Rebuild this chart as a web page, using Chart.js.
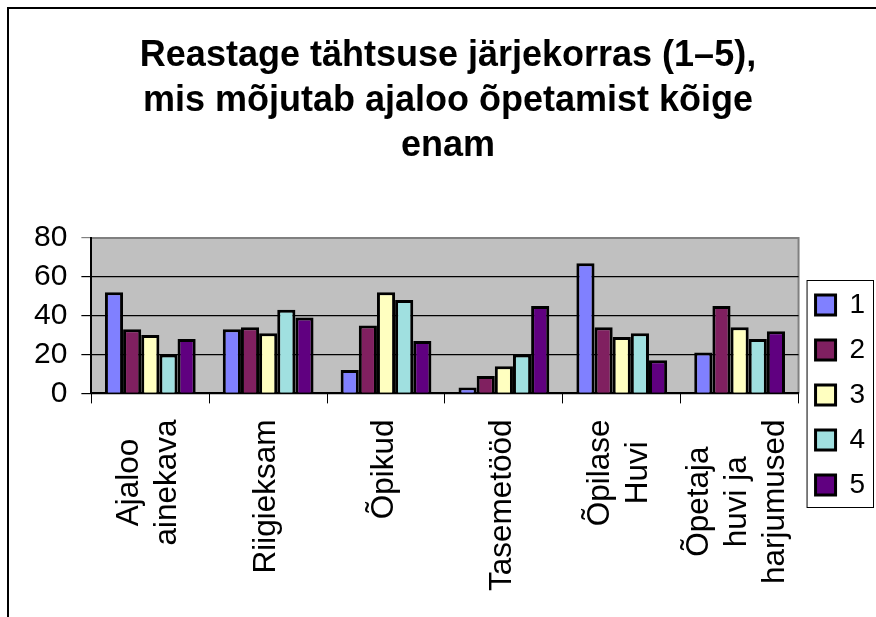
<!DOCTYPE html>
<html>
<head>
<meta charset="utf-8">
<script src="https://cdn.jsdelivr.net/npm/chart.js@4"></script>
<style>
  body { margin: 0; background: #fff; }
  #wrap { width: 876px; height: 617px; position: relative; }
</style>
</head>
<body>
<div id="wrap"><canvas id="chartCanvas"></canvas></div>
<script>
// categories and values
const categories = [
    ["Ajaloo", "ainekava"],
    ["Riigieksam"],
    ["Õpikud"],
    ["Tasemetööd"],
    ["Õpilase", "Huvi"],
    ["Õpetaja", "huvi ja", "harjumused"]
];
const seriesNames = ["1", "2", "3", "4", "5"];
const rank1 = [52, 33, 12, 3, 67, 21];
const rank2 = [33, 34, 35, 9, 34, 45];
const rank3 = [30, 31, 52, 14, 29, 34];
const rank4 = [20, 43, 48, 20, 31, 28];
const rank5 = [28, 39, 27, 45, 17, 32];
const yTicks = [0, 20, 40, 60, 80];

const colors = ["#8080FF", "#802060", "#FFFFC0", "#A0E0E0", "#600080"];
const font = "'Liberation Sans', Arial, sans-serif";
const labelSize = 31.5;
const labelLine = 38;

const allSeries = [rank1, rank2, rank3, rank4, rank5];

// gray plot area, outer frame, legend box, centred category labels
const decor = {
    id: "decor",
    afterLayout(chart) {
        // excel puts the legend lower than the plot centre
        const lg = chart.legend;
        lg.top = 250;
        lg.bottom = 540;
    },
    beforeDraw(chart) {
        const ctx = chart.ctx;
        const a = chart.chartArea;
        ctx.save();
        ctx.fillStyle = "#C0C0C0";
        ctx.fillRect(a.left, a.top, a.right - a.left, a.bottom - a.top);
        ctx.strokeStyle = "#808080";
        ctx.lineWidth = 2;
        ctx.beginPath();
        ctx.moveTo(a.left, a.top);
        ctx.lineTo(a.right, a.top);
        ctx.lineTo(a.right, a.bottom);
        ctx.stroke();
        ctx.restore();
    },
    afterDraw(chart) {
        const ctx = chart.ctx;
        ctx.save();
        ctx.strokeStyle = "#000";
        ctx.lineWidth = 2;
        ctx.beginPath();
        ctx.moveTo(8, chart.height);
        ctx.lineTo(8, 8);
        ctx.lineTo(chart.width, 8);
        ctx.stroke();

        const lg = chart.legend;
        ctx.lineWidth = 1;
        ctx.strokeRect(lg.left + 8.5, 280.5, chart.width - lg.left - 11, 227);

        // category labels, lines centred like the original
        const xs = chart.scales.x;
        const top = xs.top + 10 + 16;
        ctx.fillStyle = "#000";
        ctx.font = labelSize + "px " + font;
        ctx.textAlign = "center";
        ctx.textBaseline = "middle";
        categories.forEach((lines, i) => {
            const px = xs.getPixelForTick(i);
            const maxW = Math.max(...lines.map(t => ctx.measureText(t).width));
            const cy = top + maxW / 2;
            lines.forEach((t, j) => {
                const lx = px - 2 + (j - (lines.length - 1) / 2) * labelLine;
                ctx.save();
                ctx.translate(lx, cy);
                ctx.rotate(-Math.PI / 2);
                ctx.fillText(t, 0, 0);
                ctx.restore();
            });
        });
        ctx.restore();
    }
};

new Chart("chartCanvas", {
    type: "bar",
    data: {
        labels: categories,
        datasets: allSeries.map((vals, i) => ({
            label: seriesNames[i],
            data: vals,
            backgroundColor: colors[i],
            borderColor: "#000",
            borderWidth: 3,
            barPercentage: 1,
            categoryPercentage: 0.77
        }))
    },
    options: {
        responsive: true,
        maintainAspectRatio: false,
        animation: false,
        layout: { padding: { left: 20, right: 0, top: 0, bottom: 10 } },
        plugins: {
            title: {
                display: true,
                text: ["Reastage tähtsuse järjekorras (1–5),", "mis mõjutab ajaloo õpetamist kõige", "enam"],
                color: "#000",
                font: { family: font, size: 36, weight: "bold", lineHeight: 1.24 },
                padding: { top: 34, bottom: 70 }
            },
            legend: {
                position: "right",
                labels: {
                    color: "#000",
                    font: { family: font, size: 28 },
                    boxWidth: 20,
                    boxHeight: 20,
                    padding: 17
                }
            },
            tooltip: { enabled: false }
        },
        scales: {
            x: {
                grid: {
                    offset: true,
                    drawOnChartArea: false,
                    drawTicks: true,
                    tickLength: 10,
                    color: "#000"
                },
                border: { color: "#000", width: 2 },
                ticks: {
                    // sized for layout, drawn centred by the plugin
                    color: "rgba(0,0,0,0)",
                    font: { family: font, size: labelSize, lineHeight: labelLine / labelSize },
                    maxRotation: 90,
                    minRotation: 90,
                    autoSkip: false,
                    padding: 16
                }
            },
            y: {
                min: 0,
                max: 80,
                afterBuildTicks(axis) {
                    axis.ticks = yTicks.map(v => ({ value: v }));
                },
                grid: {
                    color: ctx => (ctx.tick && ctx.tick.value === 80 ? "#808080" : "#000"),
                    lineWidth: 1.2,
                    tickLength: 10
                },
                border: { color: "#000", width: 2 },
                ticks: {
                    color: "#000",
                    font: { family: font, size: 30 },
                    padding: 14,
                    autoSkip: false
                }
            }
        }
    },
    plugins: [decor]
});
</script>
</body>
</html>
